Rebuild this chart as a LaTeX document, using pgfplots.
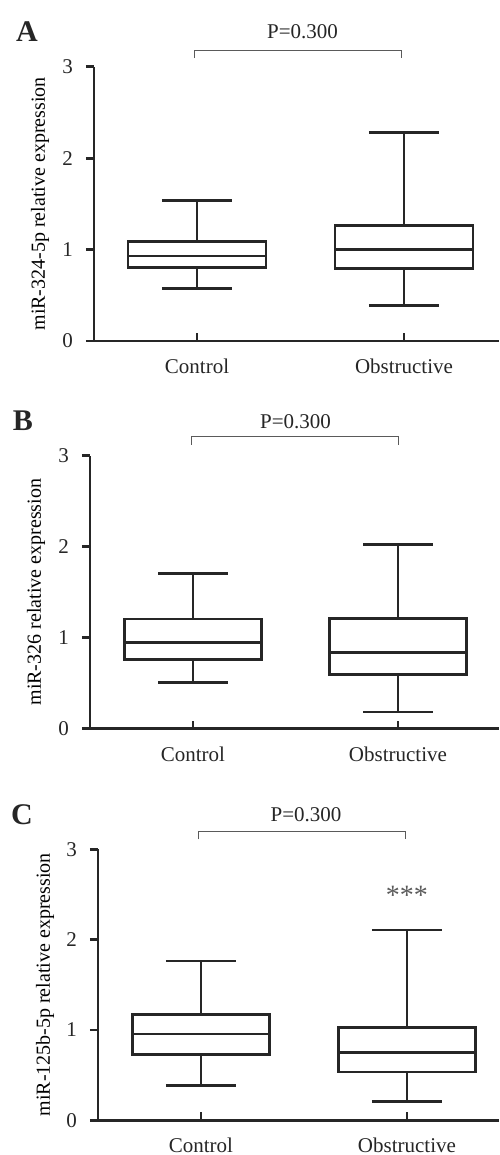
\documentclass[border=0pt]{standalone}
\usepackage{fontspec}
\setmainfont{Liberation Serif}
\usepackage{pgfplots}
\pgfplotsset{compat=1.18}
\usepgfplotslibrary{statistics}

\definecolor{ink}{RGB}{38,38,38}
\definecolor{brk}{RGB}{90,90,90}

\tikzset{xt/.style={draw=ink, line width=1.4pt}}

\pgfplotsset{
  /pgfplots/boxplot/every median/.style={draw=ink, line width=1.4pt},
  /pgfplots/boxplot/every whisker/.style={draw=ink, line width=1.4pt},
  /pgfplots/boxplot/every box/.style={draw=ink, line width=1.4pt},
  panel/.style={
    scale only axis,
    ymin=0, ymax=3,
    ytick={0,1,2,3},
    xtick={1,2},
    xticklabels={Control,Obstructive},
    axis x line*=bottom,
    axis y line*=left,
    axis line style={ink, line width=1.4pt},
    tick align=outside,
    major tick length=4pt,
    tick style={ink, line width=1.4pt},
    x tick style={draw=none},
    tick label style={font=\fontsize{10.5}{12}\selectfont, text=ink},
    yticklabel style={xshift=-3pt},
    xticklabel style={yshift=-1.5pt},
    /pgf/number format/assume math mode=true,
    label style={font=\fontsize{11}{12}\selectfont, text=ink},
    clip=false,
  },
  bx/.style={draw=ink, line width=1.4pt, boxplot/draw direction=y,
    boxplot/box extend=0.667, boxplot/whisker extend=0.34},
}

\begin{document}
\begin{tikzpicture}
\useasboundingbox (0,0) rectangle (249.5pt,-577.5pt);

% ---- A ----
\begin{axis}[panel, at={(47pt,-170.5pt)}, anchor=south west,
  width=202.5pt, height=137.15pt, xmin=0.5024, xmax=2.459,
  ylabel={miR-324-5p relative expression},
  every axis y label/.style={at={(axis description cs:-0.133,0.5)}, rotate=90, anchor=center}]
  \addplot[bx, boxplot prepared={draw position=1, lower whisker=0.577, lower quartile=0.80,
    median=0.93, upper quartile=1.09, upper whisker=1.535}] coordinates {};
  \addplot[bx, boxplot prepared={draw position=2, lower whisker=0.39, lower quartile=0.795,
    median=1.003, upper quartile=1.266, upper whisker=2.28}] coordinates {};
  \draw[xt] (axis cs:1,0) -- ([yshift=4pt]axis cs:1,0) (axis cs:2,0) -- ([yshift=4pt]axis cs:2,0);
  \draw[brk, line width=0.5pt] (axis cs:0.986,3.095) -- (axis cs:0.986,3.18) -- (axis cs:1.99,3.18) -- (axis cs:1.99,3.095);
  \node[font=\fontsize{10.5}{12}\selectfont, text=ink] at (axis cs:1.51,3.38) {P=0.300};
\end{axis}
\node[font=\fontsize{15}{16}\selectfont\bfseries, text=ink] at (13.5pt,-16pt) {A};

% ---- B ----
\begin{axis}[panel, at={(45pt,-364.35pt)}, anchor=south west,
  width=204.5pt, height=136.5pt, xmin=0.4976, xmax=2.493,
  ylabel={miR-326 relative expression},
  every axis y label/.style={at={(axis description cs:-0.132,0.5)}, rotate=90, anchor=center}]
  \addplot[bx, boxplot prepared={draw position=1, lower whisker=0.505, lower quartile=0.763,
    median=0.95, upper quartile=1.205, upper whisker=1.708}] coordinates {};
  \addplot[bx, boxplot prepared={draw position=2, lower whisker=0.183, lower quartile=0.60,
    median=0.84, upper quartile=1.213, upper whisker=2.02}] coordinates {};
  \draw[xt] (axis cs:1,0) -- ([yshift=4pt]axis cs:1,0) (axis cs:2,0) -- ([yshift=4pt]axis cs:2,0);
  \draw[brk, line width=0.5pt] (axis cs:0.995,3.12) -- (axis cs:0.995,3.21) -- (axis cs:2.005,3.21) -- (axis cs:2.005,3.12);
  \node[font=\fontsize{10.5}{12}\selectfont, text=ink] at (axis cs:1.5,3.37) {P=0.300};
\end{axis}
\node[font=\fontsize{15}{16}\selectfont\bfseries, text=ink] at (11.5pt,-210.3pt) {B};

% ---- C ----
\begin{axis}[panel, at={(49pt,-560.15pt)}, anchor=south west,
  width=200.5pt, height=135.5pt, xmin=0.5, xmax=2.447,
  ylabel={miR-125b-5p relative expression},
  every axis y label/.style={at={(axis description cs:-0.132,0.5)}, rotate=90, anchor=center}]
  \addplot[bx, boxplot prepared={draw position=1, lower whisker=0.388, lower quartile=0.73,
    median=0.956, upper quartile=1.174, upper whisker=1.764}] coordinates {};
  \addplot[bx, boxplot prepared={draw position=2, lower whisker=0.206, lower quartile=0.535,
    median=0.749, upper quartile=1.026, upper whisker=2.107}] coordinates {};
  \draw[xt] (axis cs:1,0) -- ([yshift=4pt]axis cs:1,0) (axis cs:2,0) -- ([yshift=4pt]axis cs:2,0);
  \draw[brk, line width=0.5pt] (axis cs:0.99,3.11) -- (axis cs:0.99,3.20) -- (axis cs:1.995,3.20) -- (axis cs:1.995,3.11);
  \node[font=\fontsize{10.5}{12}\selectfont, text=ink] at (axis cs:1.51,3.38) {P=0.300};
  \node[font=\fontsize{14}{16}\selectfont, text=brk] at (axis cs:2,2.49) {***};
\end{axis}
\node[font=\fontsize{15}{16}\selectfont\bfseries, text=ink] at (11pt,-407.5pt) {C};
\end{tikzpicture}
\end{document}
